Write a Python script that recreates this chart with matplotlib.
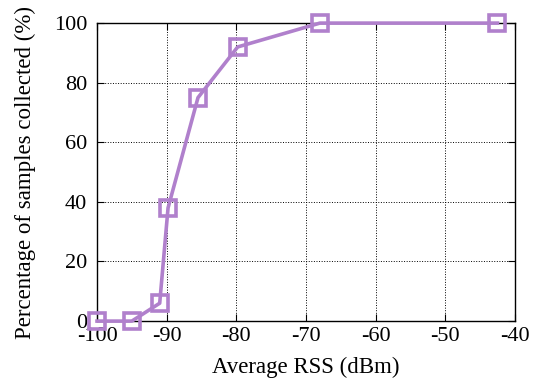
import matplotlib
matplotlib.use('Agg')
import matplotlib.pyplot as plt

# data
rss = [-100, -95, -91, -89.8, -85.5, -79.8, -68, -42.5]
pct = [0, 0, 6, 38, 75, 92, 100, 100]

plt.rcParams['font.family'] = ['Liberation Serif', 'DejaVu Serif']
plt.rcParams['axes.unicode_minus'] = False

fig = plt.figure(figsize=(5.42, 3.85), dpi=100)
ax = fig.add_axes([0.179, 0.166, 0.771, 0.774])

ax.plot(rss, pct, color='#b080cc', linewidth=2.6, marker='s', markersize=11,
        markerfacecolor='none', markeredgewidth=2.6, clip_on=False, zorder=3)

ax.set_xlim(-100, -40)
ax.set_ylim(0, 100)
ax.set_xticks(range(-100, -39, 10))
ax.set_yticks(range(0, 101, 20))
ax.grid(color='black', linestyle=':', linewidth=0.7)
ax.tick_params(direction='in', top=True, right=True, labelsize=16, length=5)
ax.tick_params(axis='x', pad=4)
ax.tick_params(axis='y', pad=7)
for s in ax.spines.values():
    s.set_linewidth(1.0)

ax.set_xlabel('Average RSS (dBm)', fontsize=16.5, labelpad=8)
ax.set_ylabel('Percentage of samples collected (%)', fontsize=16.5, labelpad=13)

fig.savefig('out.png', dpi=100)
